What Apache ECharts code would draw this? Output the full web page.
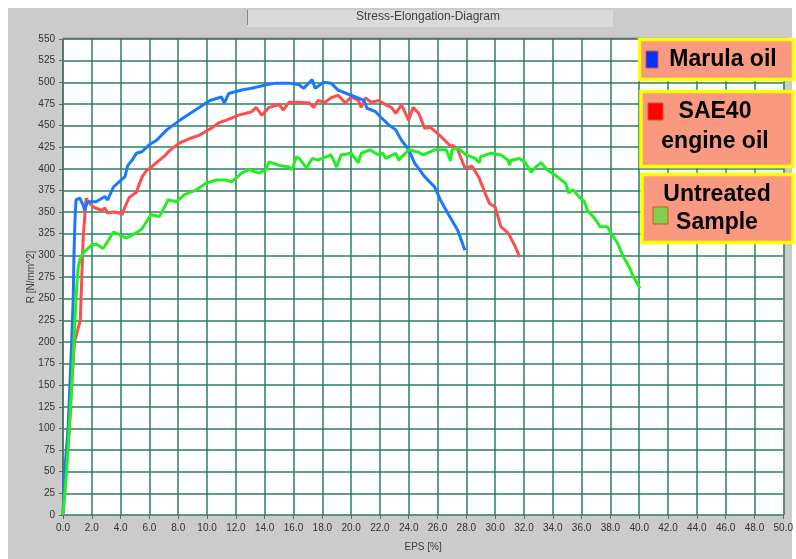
<!DOCTYPE html>
<html>
<head>
<meta charset="utf-8">
<script src="https://cdn.jsdelivr.net/npm/echarts@6/dist/echarts.min.js"></script>
<style>
html,body{margin:0;padding:0;background:#fff;}
#c{width:796px;height:559px;}
</style>
</head>
<body>
<div id="c"></div>
<script>
// Series data: [EPS %, R N/mm^2]
var marulaData = [
  [0,0],[0.12,50],[0.35,100],[0.48,150],[0.6,200],[0.71,250],[0.76,300],[0.83,340],[0.9,364],[1.17,366],[1.4,358],[1.5,352],
  [1.7,362],[2.3,362],[2.7,366],[2.9,368],[3.1,364],[3.2,362],[3.5,379],[3.9,385],[4.3,391],[4.5,404],
  [4.8,410],[5.1,418],[5.5,420],[6.0,428],[6.5,433],[7.2,445],[8.1,456],[9.0,466],[10.2,479],[11.0,483],
  [11.2,476],[11.5,487],[12.4,491],[13.1,493],[14.1,497],[14.8,499],[15.7,499],[16.4,497],[16.7,493],
  [17.3,503],[17.5,493],[18.1,500],[18.6,499],[19.1,491],[20.0,485],[20.9,479],[21.1,470],[21.7,466],
  [22.1,459],[22.6,451],[23.1,445],[23.5,433],[24.0,422],[24.4,407],[25.1,391],[25.8,379],[26.2,364],
  [26.7,349],[27.4,329],[27.9,306]
];
var sae40Data = [
  [0,0],[0.2,50],[0.45,100],[0.6,150],[0.8,200],[1.2,225],[1.3,272],[1.4,320],[1.6,366],[1.85,360],
  [2.2,355],[2.7,352],[2.9,355],[3.1,349],[3.5,350],[3.9,349],[4.1,347],[4.3,356],[4.6,367],[5.1,373],
  [5.2,378],[5.5,391],[5.8,398],[6.2,403],[6.7,410],[7.0,414],[7.4,421],[8.1,430],[8.8,435],[9.5,439],
  [10.4,448],[10.8,453],[11.3,456],[12.2,462],[13.1,466],[13.4,471],[13.8,462],[14.3,471],[15.0,474],
  [15.3,468],[15.7,477],[16.4,477],[17.1,476],[17.4,471],[17.7,479],[18.2,477],[18.6,482],[19.1,485],
  [19.6,476],[20.0,483],[20.5,479],[20.7,471],[21.0,482],[21.4,477],[21.9,479],[22.4,474],[22.8,471],
  [23.1,464],[23.5,474],[24.0,456],[24.3,471],[24.7,464],[25.1,447],[25.5,448],[26.0,441],[26.5,433],
  [26.9,426],[27.1,427],[27.4,422],[27.9,401],[28.4,403],[28.9,389],[29.3,372],[29.6,360],[30.0,356],
  [30.4,333],[30.9,326],[31.4,310],[31.7,298]
];
var untreatedData = [
  [0,0],[0.25,50],[0.43,100],[0.6,150],[0.76,200],[0.9,250],[1.04,284],[1.17,295],[1.4,303],[2.0,312],
  [2.3,313],[2.8,308],[3.5,327],[4.4,320],[5.1,326],[5.5,331],[6.1,347],[6.7,345],[7.3,364],[7.9,362],
  [8.4,370],[9.3,376],[9.9,383],[10.6,387],[11.3,387],[11.7,385],[12.4,395],[12.9,399],[13.6,395],
  [14.1,399],[14.3,408],[15.0,404],[15.7,402],[15.9,399],[16.2,414],[16.4,412],[16.9,401],[17.3,412],
  [17.7,410],[18.3,414],[18.6,416],[19.0,402],[19.3,416],[20.0,418],[20.5,407],[20.7,418],[21.3,422],
  [21.9,416],[22.2,418],[22.4,412],[23.1,418],[23.3,410],[24.0,422],[24.7,419],[25.0,416],[25.8,422],
  [26.6,422],[26.9,409],[27.0,422],[27.4,424],[28.0,416],[28.6,412],[28.9,407],[29.0,414],[29.7,418],
  [30.4,416],[30.9,410],[31.0,404],[31.1,410],[31.7,412],[32.1,407],[32.5,396],[32.8,402],[33.2,407],
  [33.6,399],[34.3,391],[34.9,383],[35.1,372],[35.4,376],[35.8,368],[36.2,362],[36.4,352],[36.9,343],
  [37.3,333],[37.8,333],[38.0,327],[38.5,314],[38.9,298],[39.3,287],[39.6,275],[40.05,262]
];
var seriesNames = ['Marula oil', 'SAE40 engine oil', 'Untreated Sample'];
var xMin = 0, xMax = 50, xStep = 2;
var yMin = 0, yMax = 550, yStep = 25;

var chart = echarts.init(document.getElementById('c'), null, {renderer: 'canvas'});
var gridColor = 'rgba(40,130,95,0.75)';
var font = '"Liberation Sans", Arial, sans-serif';

function legendBox(x, y, w, h, lines, swatch, swColor) {
  var els = [{
    type: 'rect', z: 100,
    shape: {x: x, y: y, width: w, height: h},
    style: {fill: '#f99a80', stroke: '#ffff00', lineWidth: 3.5}
  }, {
    type: 'rect', z: 101,
    shape: {x: swatch[0], y: swatch[1], width: swatch[2], height: swatch[3]},
    style: {fill: swColor, stroke: '#e05020', lineWidth: 1}
  }];
  lines.forEach(function (l) {
    els.push({
      type: 'text', z: 101, x: l[1], y: l[2],
      style: {text: l[0], fill: '#000', font: 'bold 23px ' + font, textAlign: 'center', textVerticalAlign: 'middle'}
    });
  });
  return els;
}

var graphics = [
  {type: 'rect', z: -100, silent: true, shape: {x: 8, y: 8, width: 784, height: 551}, style: {fill: '#cbcbcb'}},
  {type: 'rect', z: -99, silent: true, shape: {x: 247, y: 10, width: 366, height: 17}, style: {fill: '#dadada'}},
  {type: 'line', z: -98, silent: true, shape: {x1: 247.5, y1: 10, x2: 247.5, y2: 25}, style: {stroke: '#888', lineWidth: 1}},
  {type: 'text', z: 5, x: 428, y: 17, style: {text: 'Stress-Elongation-Diagram', fill: '#404040', font: '12px ' + font, textAlign: 'center', textVerticalAlign: 'middle'}},
  {type: 'line', z: 5, silent: true, shape: {x1: 63, y1: 38.5, x2: 787, y2: 38.5}, style: {stroke: '#666', lineWidth: 1.5}}
];
graphics = graphics.concat(
  legendBox(639.5, 39.5, 154, 40, [['Marula oil', 723, 60]], [646, 51, 12, 17], '#0033ff'),
  legendBox(641, 91.5, 152, 75, [['SAE40', 715, 112], ['engine oil', 715, 142]], [648, 103, 15, 17], '#ff0000'),
  legendBox(642, 174.5, 151, 68, [['Untreated', 717, 195], ['Sample', 717, 223]], [653, 207, 15, 17], '#80d050')
);

var option = {
  animation: false,
  backgroundColor: '#ffffff',
  grid: {left: 63, top: 39, width: 724, height: 476, show: true, backgroundColor: '#ffffff', borderWidth: 0, containLabel: false},
  xAxis: {
    type: 'value', min: xMin, max: xMax, interval: xStep,
    name: 'EPS [%]', nameLocation: 'middle', nameGap: 27, nameMoveOverlap: false,
    nameTextStyle: {color: '#404040', fontSize: 10, fontFamily: font},
    axisLine: {show: false},
    axisTick: {show: true, length: 4, lineStyle: {color: '#666'}},
    axisLabel: {color: '#333', fontSize: 10, fontFamily: font, margin: 8, formatter: function (v) { return v.toFixed(1); }},
    splitLine: {show: true, lineStyle: {color: gridColor, width: 2}}
  },
  yAxis: {
    type: 'value', min: yMin, max: yMax, interval: yStep,
    name: 'R [N/mm^2]', nameLocation: 'middle', nameGap: 27, nameMoveOverlap: false,
    nameTextStyle: {color: '#404040', fontSize: 10, fontFamily: font},
    axisLine: {show: true, lineStyle: {color: '#666', width: 1.5}},
    axisTick: {show: true, length: 4, lineStyle: {color: '#666'}},
    axisLabel: {color: '#333', fontSize: 10, fontFamily: font, margin: 8},
    splitLine: {show: true, lineStyle: {color: gridColor, width: 2}}
  },
  graphic: graphics,
  series: [
    {name: seriesNames[0], type: 'line', data: marulaData, showSymbol: false, smooth: false,
     lineStyle: {color: '#1a78ff', width: 3}, z: 4},
    {name: seriesNames[1], type: 'line', data: sae40Data, showSymbol: false,
     lineStyle: {color: '#ff4d4d', width: 3}, z: 3},
    {name: seriesNames[2], type: 'line', data: untreatedData, showSymbol: false,
     lineStyle: {color: '#22ee22', width: 3}, z: 5}
  ]
};
chart.setOption(option);
</script>
</body>
</html>
